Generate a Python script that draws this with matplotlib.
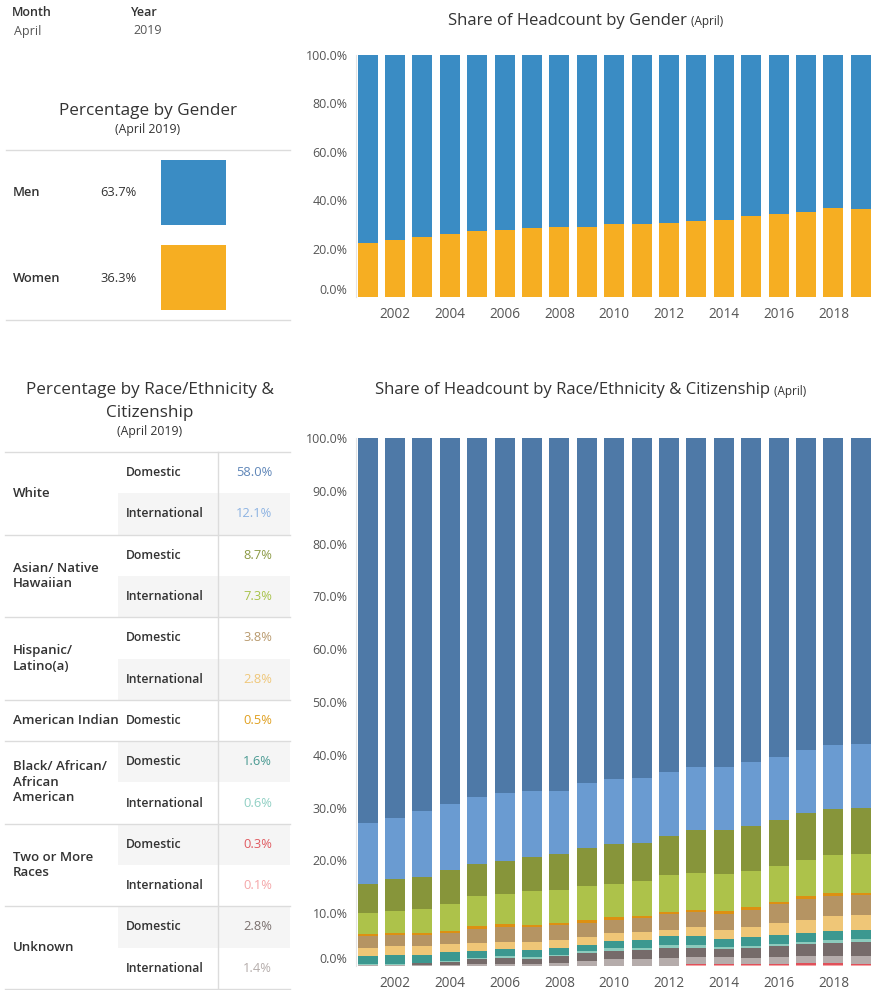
import matplotlib
matplotlib.use("Agg")
import matplotlib.pyplot as plt
from matplotlib.patches import Rectangle
import numpy as np

plt.rcParams['font.family'] = ['Open Sans', 'DejaVu Sans']

# ---------------- data ----------------
years = list(range(2001, 2020))
tick_years = list(range(2002, 2019, 2))

women = [22.5, 23.5, 24.8, 26.2, 27.2, 27.7, 28.5, 29.0, 29.0, 30.0, 30.0, 30.5, 31.4, 31.9, 33.3, 34.2, 35.2, 36.6, 36.3]
men = [77.5, 76.5, 75.2, 73.8, 72.8, 72.3, 71.5, 71.0, 71.0, 70.0, 70.0, 69.5, 68.6, 68.1, 66.7, 65.8, 64.8, 63.4, 63.7]

gender_labels = ["Men", "Women"]
gender_values = ["63.7%", "36.3%"]

# stacked series, bottom -> top
two_more_intl = [0, 0, 0, 0, 0, 0, 0, 0, 0, 0, 0, 0, 0.1, 0.1, 0.1, 0.1, 0.1, 0.1, 0.1]
two_more_dom = [0, 0, 0, 0, 0, 0, 0, 0, 0, 0, 0, 0, 0.3, 0.3, 0.3, 0.3, 0.4, 0.4, 0.3]
unknown_intl = [0.1, 0.1, 0.2, 0.2, 0.3, 0.4, 0.4, 0.6, 0.9, 1.3, 1.3, 1.6, 1.3, 1.3, 1.1, 1.3, 1.4, 1.3, 1.4]
unknown_dom = [0.1, 0.1, 0.3, 0.6, 1.1, 1.1, 1.0, 1.3, 1.6, 1.6, 1.7, 1.8, 1.8, 1.5, 1.9, 2.0, 2.3, 2.6, 2.8]
black_intl = [0.1, 0.1, 0.1, 0.2, 0.2, 0.3, 0.3, 0.2, 0.3, 0.6, 0.5, 0.5, 0.5, 0.4, 0.4, 0.5, 0.4, 0.5, 0.6]
black_dom = [1.6, 1.8, 1.5, 1.6, 1.3, 1.4, 1.3, 1.4, 1.2, 1.2, 1.4, 1.7, 1.7, 1.5, 1.6, 1.6, 1.6, 1.8, 1.6]
hisp_intl = [1.6, 1.6, 1.6, 1.5, 1.5, 1.4, 1.5, 1.4, 1.5, 1.5, 1.6, 1.3, 1.6, 1.7, 1.9, 2.4, 2.6, 2.7, 2.8]
hisp_dom = [2.2, 2.1, 2.2, 2.2, 2.6, 2.8, 2.8, 2.8, 2.7, 2.5, 2.5, 2.9, 2.9, 3.1, 3.3, 3.5, 3.9, 3.9, 3.8]
amind_dom = [0.4, 0.4, 0.4, 0.4, 0.5, 0.5, 0.5, 0.5, 0.5, 0.5, 0.5, 0.4, 0.4, 0.6, 0.5, 0.5, 0.6, 0.5, 0.5]
asian_intl = [4.0, 4.3, 4.5, 5.1, 5.7, 5.8, 6.4, 6.2, 6.4, 6.4, 6.6, 7.0, 7.1, 6.9, 6.9, 6.7, 6.8, 7.2, 7.3]
asian_dom = [5.5, 6.0, 6.1, 6.4, 6.1, 6.2, 6.4, 6.8, 7.2, 7.5, 7.2, 7.4, 8.0, 8.3, 8.6, 8.8, 8.8, 8.7, 8.7]
white_intl = [11.4, 11.5, 12.5, 12.4, 12.7, 12.9, 12.6, 12.0, 12.4, 12.3, 12.3, 12.1, 12.0, 12.0, 12.0, 11.9, 12.0, 12.1, 12.1]
white_dom = [73.0, 72.0, 70.6, 69.4, 68.0, 67.2, 66.8, 66.8, 65.3, 64.6, 64.4, 63.3, 62.3, 62.3, 61.4, 60.4, 59.1, 58.2, 58.0]

race_groups = ["White", "Asian/ Native\nHawaiian", "Hispanic/\nLatino(a)", "American Indian",
               "Black/ African/\nAfrican\nAmerican", "Two or More\nRaces", "Unknown"]
group_rows = [["Domestic", "International"], ["Domestic", "International"], ["Domestic", "International"],
              ["Domestic"], ["Domestic", "International"], ["Domestic", "International"],
              ["Domestic", "International"]]
race_values = [["58.0%", "12.1%"], ["8.7%", "7.3%"], ["3.8%", "2.8%"], ["0.5%"],
               ["1.6%", "0.6%"], ["0.3%", "0.1%"], ["2.8%", "1.4%"]]

# ---------------- styles ----------------
C_MEN = "#3a8cc4"
C_WOMEN = "#f6ae22"
series = [
    (two_more_intl, "#f4a3a5"),
    (two_more_dom, "#e0505a"),
    (unknown_intl, "#b5acab"),
    (unknown_dom, "#766b6a"),
    (black_intl, "#8ccbbd"),
    (black_dom, "#3c9890"),
    (hisp_intl, "#efc677"),
    (hisp_dom, "#b59463"),
    (amind_dom, "#dd9012"),
    (asian_intl, "#adc24a"),
    (asian_dom, "#87953a"),
    (white_intl, "#6a9bd1"),
    (white_dom, "#4e79a7"),
]
value_colors = [["#5f86b8", "#8db3e2"], ["#8c9a45", "#a8c24a"], ["#b99a6e", "#efc77a"], ["#e0a020"],
                ["#4a9a92", "#8fcfc3"], ["#e05a60", "#f4a6a8"], ["#7a706e", "#b5adab"]]

W, H = 871, 990
fig = plt.figure(figsize=(W / 100, H / 100), dpi=100)
fig.patch.set_facecolor("white")

ov = fig.add_axes([0, 0, 1, 1])
ov.set_xlim(0, W)
ov.set_ylim(H, 0)
ov.axis("off")

DARK = "#333333"
MID = "#555555"
LINE = "#dcdcdc"

# header
ov.text(12, 13, "Month", fontsize=9, color=DARK, weight="semibold", va="center")
ov.text(14, 31, "April", fontsize=9, color=MID, va="center")
ov.text(131, 13, "Year", fontsize=9, color=DARK, weight="semibold", va="center")
ov.text(133, 31, "2019", fontsize=9, color=MID, va="center")

# gender table
ov.text(148, 111, "Percentage by Gender", fontsize=12.3, color=DARK, ha="center", va="center")
ov.text(148, 129, "(April 2019)", fontsize=8.8, color=DARK, ha="center", va="center")
ov.plot([6, 290], [150, 150], color=LINE, lw=1)
ov.plot([6, 290], [320, 320], color=LINE, lw=1)
for i, (lab, val, col) in enumerate(zip(gender_labels, gender_values, [C_MEN, C_WOMEN])):
    yc = 193 + i * 85
    ov.text(13, yc, lab, fontsize=9.3, color=DARK, weight="semibold", va="center")
    ov.text(100, yc, val, fontsize=9.3, color=DARK, va="center")
    ov.add_patch(Rectangle((161, yc - 33), 65, 65, color=col, lw=0))

# race table
ov.text(150, 390, "Percentage by Race/Ethnicity &", fontsize=12.3, color=DARK, ha="center", va="center")
ov.text(150, 413, "Citizenship", fontsize=12.3, color=DARK, ha="center", va="center")
ov.text(150, 432, "(April 2019)", fontsize=8.8, color=DARK, ha="center", va="center")
top = 452
rh = 41.3
row = 0
ov.plot([5, 290], [top, top], color=LINE, lw=1, zorder=3)
for g, (gname, rows, vals, cols) in enumerate(zip(race_groups, group_rows, race_values, value_colors)):
    g_start = top + row * rh
    for j, (cit, v, c) in enumerate(zip(rows, vals, cols)):
        y0 = top + row * rh
        if row % 2 == 1:
            ov.add_patch(Rectangle((118, y0), 172, rh, color="#f5f5f5", lw=0, zorder=1))
        ov.text(126, y0 + rh / 2, cit, fontsize=8.8, color=DARK, weight="semibold", va="center", zorder=4)
        ov.text(272, y0 + rh / 2, v, fontsize=9.3, color=c, ha="right", va="center", zorder=4)
        row += 1
    g_end = top + row * rh
    ov.text(13, (g_start + g_end) / 2, gname, fontsize=9.5, color=DARK, weight="semibold",
            va="center", linespacing=1.25, zorder=4)
    ov.plot([5, 290], [g_end, g_end], color=LINE, lw=1, zorder=3)
ov.plot([218, 218], [top, top + row * rh], color=LINE, lw=1, zorder=3)


def style_axis(ax, yticks):
    ax.set_xlim(2000.577, 2019.37)
    ax.set_ylim(0, 100)
    ax.set_yticks(yticks)
    ax.set_yticklabels([f"{t:.1f}%" for t in yticks])
    ax.set_xticks(tick_years)
    ax.set_xticklabels([str(y) for y in tick_years])
    ax.tick_params(axis="both", length=0, labelcolor="#555555")
    ax.tick_params(axis="y", pad=6, labelsize=9)
    ax.tick_params(axis="x", pad=7, labelsize=9.8)
    for s in ["top", "right", "bottom"]:
        ax.spines[s].set_visible(False)
    ax.spines["left"].set_color("#e4e4e4")
    ax.patch.set_alpha(0)
    lbls = ax.get_yticklabels()
    lbls[0].set_verticalalignment("bottom")


BW = 0.73
# top chart
ax1 = fig.add_axes([356 / W, 1 - 297 / H, (W - 356) / W, (297 - 55) / H])
ax1.bar(years, women, width=BW, color=C_WOMEN, lw=0)
ax1.bar(years, men, width=BW, bottom=women, color=C_MEN, lw=0)
style_axis(ax1, [0, 20, 40, 60, 80, 100])
ov.text(687, 21, "Share of Headcount by Gender", fontsize=12, color=DARK, ha="right", va="center")
ov.text(688, 22, " (April)", fontsize=8.5, color=DARK, ha="left", va="center")

# bottom chart
ax2 = fig.add_axes([356 / W, 1 - 966 / H, (W - 356) / W, (966 - 438) / H])
bottom = np.zeros(len(years))
for vals, col in series:
    ax2.bar(years, vals, width=BW, bottom=bottom, color=col, lw=0)
    bottom = bottom + np.array(vals)
style_axis(ax2, [0, 10, 20, 30, 40, 50, 60, 70, 80, 90, 100])
ov.text(770, 390, "Share of Headcount by Race/Ethnicity & Citizenship", fontsize=12, color=DARK,
        ha="right", va="center")
ov.text(771, 391, " (April)", fontsize=8.5, color=DARK, ha="left", va="center")

fig.savefig("out.png", dpi=100, facecolor="white")
